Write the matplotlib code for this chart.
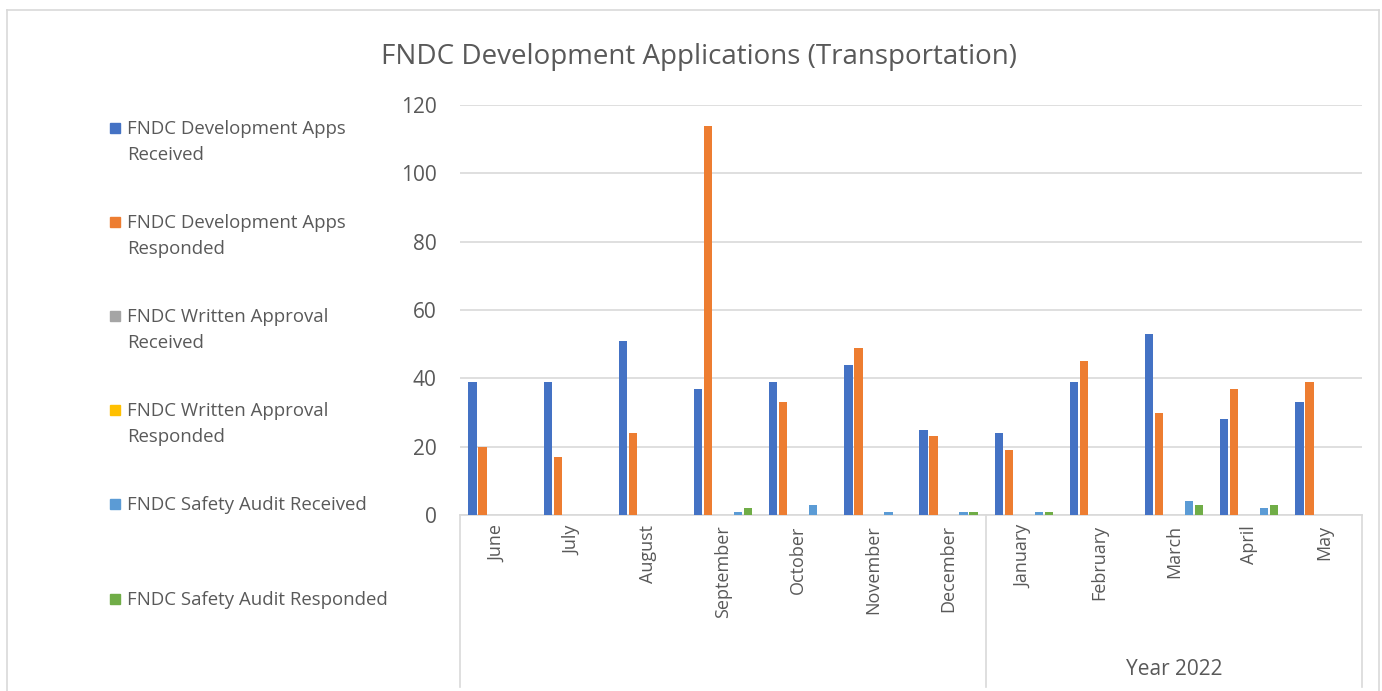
import numpy as np
import matplotlib
matplotlib.use('Agg')
import matplotlib.pyplot as plt
from matplotlib.patches import Rectangle
from matplotlib.lines import Line2D

plt.rcParams['font.family'] = ['Open Sans', 'DejaVu Sans']

months = ['June', 'July', 'August', 'September', 'October', 'November', 'December',
          'January', 'February', 'March', 'April', 'May']
year_groups = [('', 0, 7), ('Year 2022', 7, 12)]

series_names = ['FNDC Development Apps\nReceived',
                'FNDC Development Apps\nResponded',
                'FNDC Written Approval\nReceived',
                'FNDC Written Approval\nResponded',
                'FNDC Safety Audit Received',
                'FNDC Safety Audit Responded']
colors = ['#4472C4', '#ED7D31', '#A5A5A5', '#FFC000', '#5B9BD5', '#70AD47']

dev_received = [39, 39, 51, 37, 39, 44, 25, 24, 39, 53, 28, 33]
dev_responded = [20, 17, 24, 114, 33, 49, 23, 19, 45, 30, 37, 39]
written_received = [0, 0, 0, 0, 0, 0, 0, 0, 0, 0, 0, 0]
written_responded = [0, 0, 0, 0, 0, 0, 0, 0, 0, 0, 0, 0]
safety_received = [0, 0, 0, 1, 3, 1, 1, 1, 0, 4, 2, 0]
safety_responded = [0, 0, 0, 2, 0, 0, 1, 1, 0, 3, 3, 0]
all_series = [dev_received, dev_responded, written_received,
              written_responded, safety_received, safety_responded]

W, H = 1382, 691
fig = plt.figure(figsize=(W / 100, H / 100), dpi=100)
ax = fig.add_axes([460 / W, 1 - 515 / H, (1362 - 460) / W, (515 - 105) / H])

# chart frame
fig.add_artist(Line2D([7 / W, 7 / W], [0, 1 - 10 / H], color='#D9D9D9', lw=1.2))
fig.add_artist(Line2D([7 / W, 1379 / W], [1 - 10 / H, 1 - 10 / H], color='#D9D9D9', lw=1.2))
fig.add_artist(Line2D([1379 / W, 1379 / W], [0, 1 - 10 / H], color='#D9D9D9', lw=1.2))

x = np.arange(len(months))
slot = 10 / 75.2
for i, (vals, c) in enumerate(zip(all_series, colors)):
    ax.bar(x + (i - 2.5) * slot, vals, width=slot * 0.82, color=c, zorder=3)

ax.set_xlim(-0.5, len(months) - 0.5)
ax.set_ylim(0, 120)
ax.set_yticks(range(0, 121, 20))
ax.yaxis.grid(True, color='#D9D9D9', lw=1.2, zorder=0)
for s in ['top', 'right', 'left']:
    ax.spines[s].set_visible(False)
ax.spines['bottom'].set_color('#D9D9D9')
ax.spines['bottom'].set_linewidth(1.2)
ax.tick_params(axis='y', length=0, pad=17, labelsize=15, labelcolor='#595959')
ax.set_xticks([])

# month labels
for xi, m in zip(x, months):
    ax.text(xi, -0.025, m, rotation=90, ha='center', va='top', fontsize=13,
            color='#595959', transform=ax.get_xaxis_transform())

# group separators and group labels
tr = ax.get_xaxis_transform()
bounds = [-0.5] + [g[2] - 0.5 for g in year_groups]
for b in bounds:
    ax.plot([b, b], [0, -0.42], color='#D9D9D9', lw=1.2, transform=tr, clip_on=False)
for name, s, e in year_groups:
    if name:
        ax.text((s + e - 1) / 2, -0.378, name, ha='center', va='center', fontsize=15,
                color='#595959', transform=tr)

# title
fig.text(699 / W, 1 - 57 / H, 'FNDC Development Applications (Transportation)',
         ha='center', va='center', fontsize=20, color='#595959')

# legend
leg_y = [128, 222, 316, 410, 504, 599]
for name, c, y in zip(series_names, colors, leg_y):
    fig.add_artist(Rectangle((110 / W, 1 - (y + 5) / H), 10 / W, 10 / H,
                             color=c, transform=fig.transFigure))
    fig.text(127 / W, 1 - (y - 8) / H, name, ha='left', va='top', fontsize=13.4,
             color='#595959', linespacing=1.6)

fig.savefig('out.png', dpi=100)
